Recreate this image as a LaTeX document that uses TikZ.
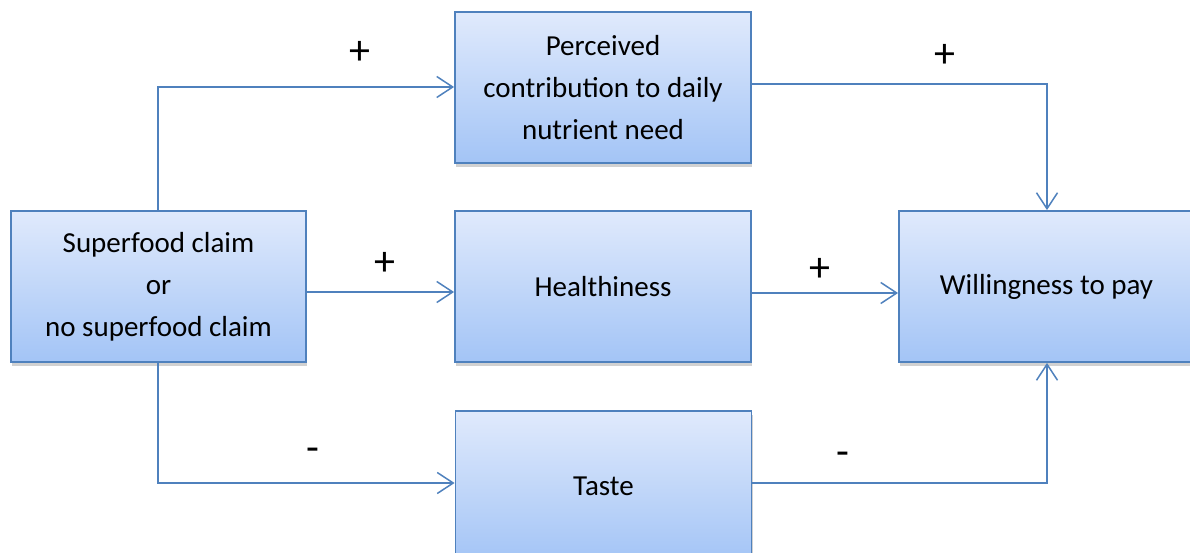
\documentclass[tikz,border=0pt]{standalone}
\usepackage{fontspec}
\setmainfont{Carlito}
\usetikzlibrary{arrows.meta,shadows}
\definecolor{lineblue}{RGB}{79,129,189}
\definecolor{topfill}{RGB}{224,234,252}
\definecolor{botfill}{RGB}{163,196,246}
\tikzset{
  box/.style={draw=lineblue, line width=1.8pt, top color=topfill, bottom color=botfill,
    minimum width=295pt, minimum height=151pt, inner sep=0pt, align=center,
    font=\fontsize{29}{42}\selectfont,
    drop shadow={shadow xshift=1pt, shadow yshift=-4pt, opacity=0.3, fill=black!60}},
  conn/.style={draw=lineblue, line width=1.5pt, -{Straight Barb[length=16pt,width=21pt,line width=1.5pt]}},
  sign/.style={font=\fontsize{42}{46}\selectfont, inner sep=0pt}
}
\begin{document}
\begin{tikzpicture}[x=1pt,y=1pt]
\useasboundingbox (0,0) rectangle (1190,-553);
\clip (0,0) rectangle (1190,-553);
\node[box] (S) at (158.5,-286.5) {Superfood claim\\or\\no superfood claim};
\node[box, minimum width=296pt] (P) at (603,-87.5) {Perceived\\contribution to daily\\nutrient need};
\node[box, minimum width=296pt] (H) at (603,-286.5) {Healthiness};
\node[box, minimum width=296pt] (T) at (603.5,-486.5) {Taste};
\node[box] (W) at (1046.5,-286.5) {Willingness to pay};
\coordinate (a1) at (158,-87);
\coordinate (a2) at (158,-483);
\coordinate (b1) at (1047,-84);
\coordinate (b2) at (1047,-483);
\draw[conn] (S.north -| a1) -- (a1) -- (a1 -| P.west);
\draw[conn] ([yshift=-5.5pt]S.east) -- ([yshift=-5.5pt]H.west);
\draw[conn] ([yshift=-6.5pt]H.east) -- ([yshift=-6.5pt]W.west);
\draw[conn] (S.south -| a2) -- (a2) -- (a2 -| T.west);
\draw[conn] (b1 -| P.east) -- (b1) -- (b1 |- W.north);
\draw[conn] (b2 -| T.east) -- (b2) -- (b2 |- W.south);
\node[sign] (s1) at (360,-53) {+};
\node[sign] (s2) at (945,-56) {+};
\node[sign] (s3) at (385,-264) {+};
\node[sign] (s4) at (820,-270) {+};
\node[sign] (s5) at (313,-455) {-};
\node[sign] (s6) at (843,-459) {-};
\end{tikzpicture}
\end{document}
